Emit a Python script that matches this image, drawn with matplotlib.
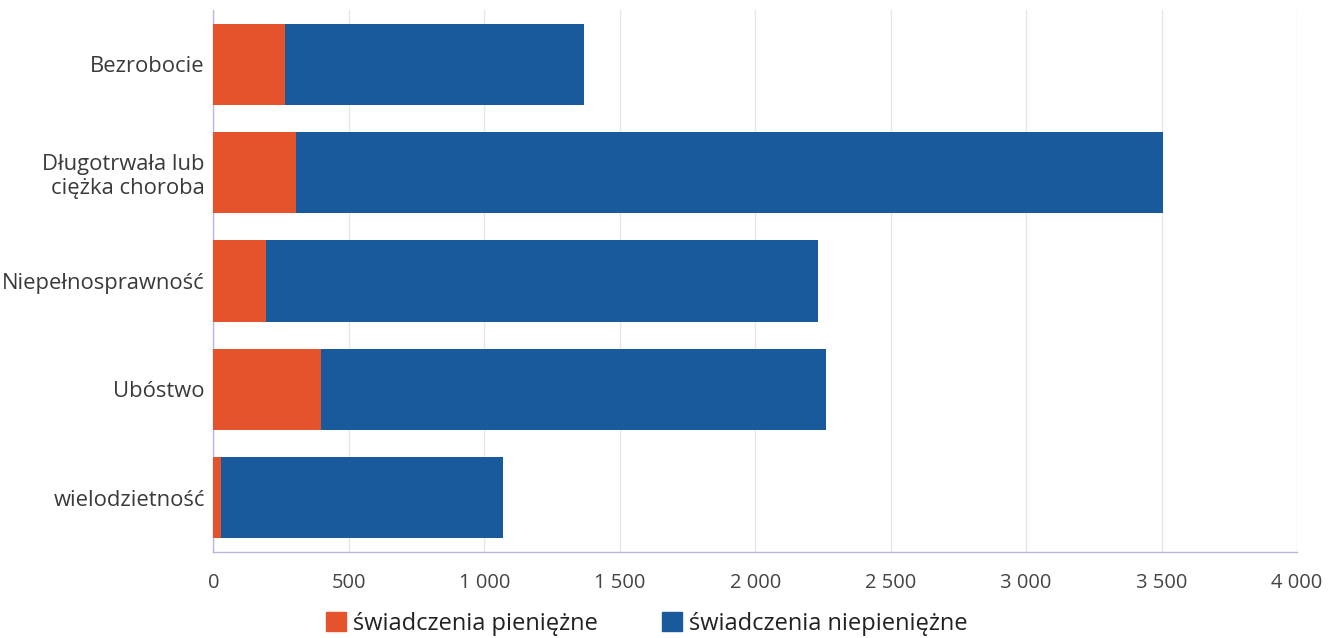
import matplotlib
matplotlib.use("Agg")
import matplotlib.pyplot as plt
from matplotlib.patches import Patch

categories = ["Bezrobocie", "Długotrwała lub\nciężka choroba", "Niepełnosprawność", "Ubóstwo", "wielodzietność"]
pieniezne = [263, 306, 194, 397, 27]
niepieniezne_total = [1367, 3505, 2232, 2260, 1069]
niepieniezne = [t - p for t, p in zip(niepieniezne_total, pieniezne)]
xticks = [0, 500, 1000, 1500, 2000, 2500, 3000, 3500, 4000]
xticklabels = ["0", "500", "1 000", "1 500", "2 000", "2 500", "3 000", "3 500", "4 000"]
series_names = ["świadczenia pieniężne", "świadczenia niepieniężne"]

plt.rcParams['font.family'] = ['Open Sans', 'DejaVu Sans']

orange = "#E4532C"
blue = "#185A9C"

fig = plt.figure(figsize=(13.33, 6.38), dpi=100)
ax = fig.add_axes([0.160, 0.135, 0.813, 0.849])

y = list(range(len(categories)))
ax.barh(y, pieniezne, height=0.75, color=orange, zorder=3)
ax.barh(y, niepieniezne, left=pieniezne, height=0.75, color=blue, zorder=3)

ax.set_ylim(len(categories) - 0.5, -0.5)
ax.set_xlim(0, 4000)
ax.set_xticks(xticks)
ax.set_xticklabels(xticklabels)
ax.set_yticks(y)
ax.set_yticklabels(categories, ha='right', multialignment='right')
ax.tick_params(axis='x', length=0, labelsize=14.5, colors='#444444', pad=15)
ax.tick_params(axis='y', length=0, labelsize=15.8, colors='#3a3a3a', pad=6)
ax.grid(axis='x', color='#e6e6ee', linewidth=1, zorder=0)
for s in ['top', 'right']:
    ax.spines[s].set_visible(False)
for s in ['left', 'bottom']:
    ax.spines[s].set_color('#b8b8dc')
    ax.spines[s].set_linewidth(1)

handles = [Patch(color=orange), Patch(color=blue)]
fig.legend(handles, series_names, loc='center', bbox_to_anchor=(0.485, 0.022), ncol=2,
           frameon=False, fontsize=17, handlelength=0.85, handleheight=0.85,
           columnspacing=2.7, handletextpad=0.3, labelcolor='#222222',
           borderpad=0, borderaxespad=0)

fig.savefig("out.png", dpi=100)
